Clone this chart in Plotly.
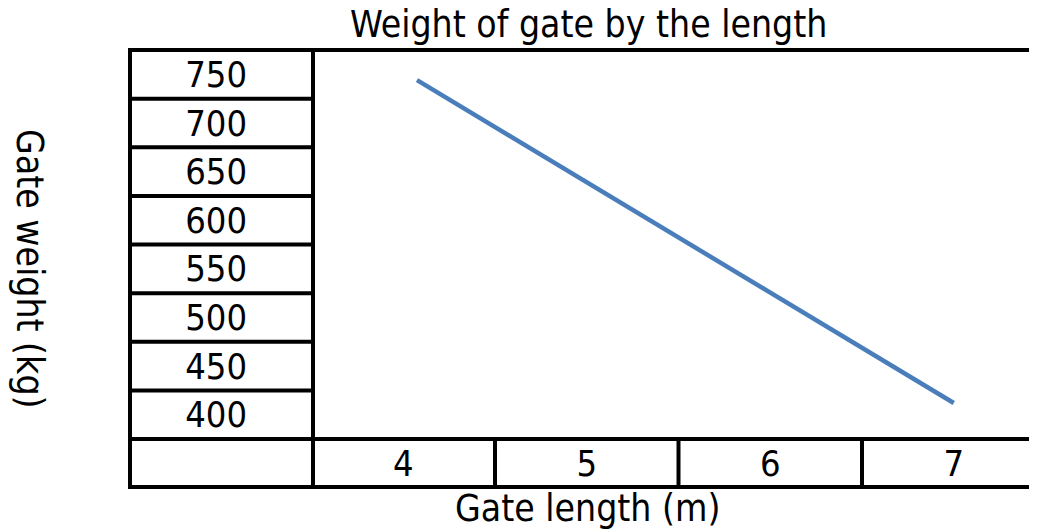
import plotly.graph_objects as go

# Data
lengths = [4.075, 7.0]
weights = [744, 412]

x_ticks = [4, 5, 6, 7]
x_labels = ["4", "5", "6", "7"]
y_ticks = [400, 450, 500, 550, 600, 650, 700, 750]
y_labels = ["400", "450", "500", "550", "600", "650", "700", "750"]

title_text = "Weight of gate by the length"
x_title = "Gate length (m)"
y_title = "Gate weight (kg)"

FONT = "DejaVu Sans Condensed, DejaVu Sans, sans-serif"
W, H = 1029, 524
ML, MT = 305, 42
bottom_px = 431
MB = H - bottom_px
plot_w = W - ML
plot_h = bottom_px - MT

left_edge = (122 - ML) / plot_w            # paper x of left border
bottom_edge = -(479 - bottom_px) / plot_h  # paper y of bottom border
LW = 4

# x range: 4.5 boundary sits at x=487 px, 183.5 px per unit
x0 = 4.5 - (487 - ML) / 183.5
x1 = 4.5 + (W - 487) / 183.5


def px_x(p):
    return (p - ML) / plot_w


def px_y(p):
    return (bottom_px - p) / plot_h


fig = go.Figure()
fig.add_trace(go.Scatter(
    x=lengths, y=weights, mode="lines",
    line=dict(color="#4a7ebb", width=4.5),
    showlegend=False, hoverinfo="skip",
))

shapes = []
shapes.append(dict(type="rect", xref="paper", yref="paper",
                   x0=left_edge, x1=1.05, y0=bottom_edge, y1=1,
                   line=dict(color="black", width=LW), layer="above"))
shapes.append(dict(type="line", xref="paper", yref="paper",
                   x0=0, x1=0, y0=bottom_edge, y1=1,
                   line=dict(color="black", width=LW), layer="above"))
shapes.append(dict(type="line", xref="paper", yref="paper",
                   x0=left_edge, x1=1.05, y0=0, y1=0,
                   line=dict(color="black", width=LW), layer="above"))
for a, b in zip(y_ticks[:-1], y_ticks[1:]):
    yb = (a + b) / 2
    shapes.append(dict(type="line", xref="paper", yref="y",
                       x0=left_edge, x1=0, y0=yb, y1=yb,
                       line=dict(color="black", width=LW), layer="above"))
for a, b in zip(x_ticks[:-1], x_ticks[1:]):
    xb = (a + b) / 2
    shapes.append(dict(type="line", xref="x", yref="paper",
                       x0=xb, x1=xb, y0=bottom_edge, y1=0,
                       line=dict(color="black", width=LW), layer="above"))

annotations = [
    dict(text=title_text, xref="paper", yref="paper",
         x=px_x(580), y=px_y(17),
         xanchor="center", yanchor="middle", showarrow=False,
         font=dict(family=FONT, size=37, color="black")),
    dict(text=x_title, xref="paper", yref="paper",
         x=px_x(579), y=px_y(500),
         xanchor="center", yanchor="middle", showarrow=False,
         font=dict(family=FONT, size=37, color="black")),
    dict(text=y_title, xref="paper", yref="paper",
         x=px_x(22), y=px_y(261),
         xanchor="center", yanchor="middle", showarrow=False, textangle=90,
         font=dict(family=FONT, size=37, color="black")),
]

fig.update_layout(
    width=W, height=H,
    margin=dict(l=ML, r=0, t=MT, b=MB, pad=0),
    paper_bgcolor="white", plot_bgcolor="white",
    font=dict(family=FONT, size=36, color="black"),
    shapes=shapes, annotations=annotations,
    xaxis=dict(range=[x0, x1], tickvals=x_ticks, ticktext=x_labels,
               showgrid=False, zeroline=False, showline=False, ticks="",
               ticklabelstandoff=0, fixedrange=True),
    yaxis=dict(range=[375, 775], tickvals=y_ticks, ticktext=y_labels,
               showgrid=False, zeroline=False, showline=False, ticks="",
               ticklabelstandoff=65, fixedrange=True),
)

fig.write_html("out.html")
